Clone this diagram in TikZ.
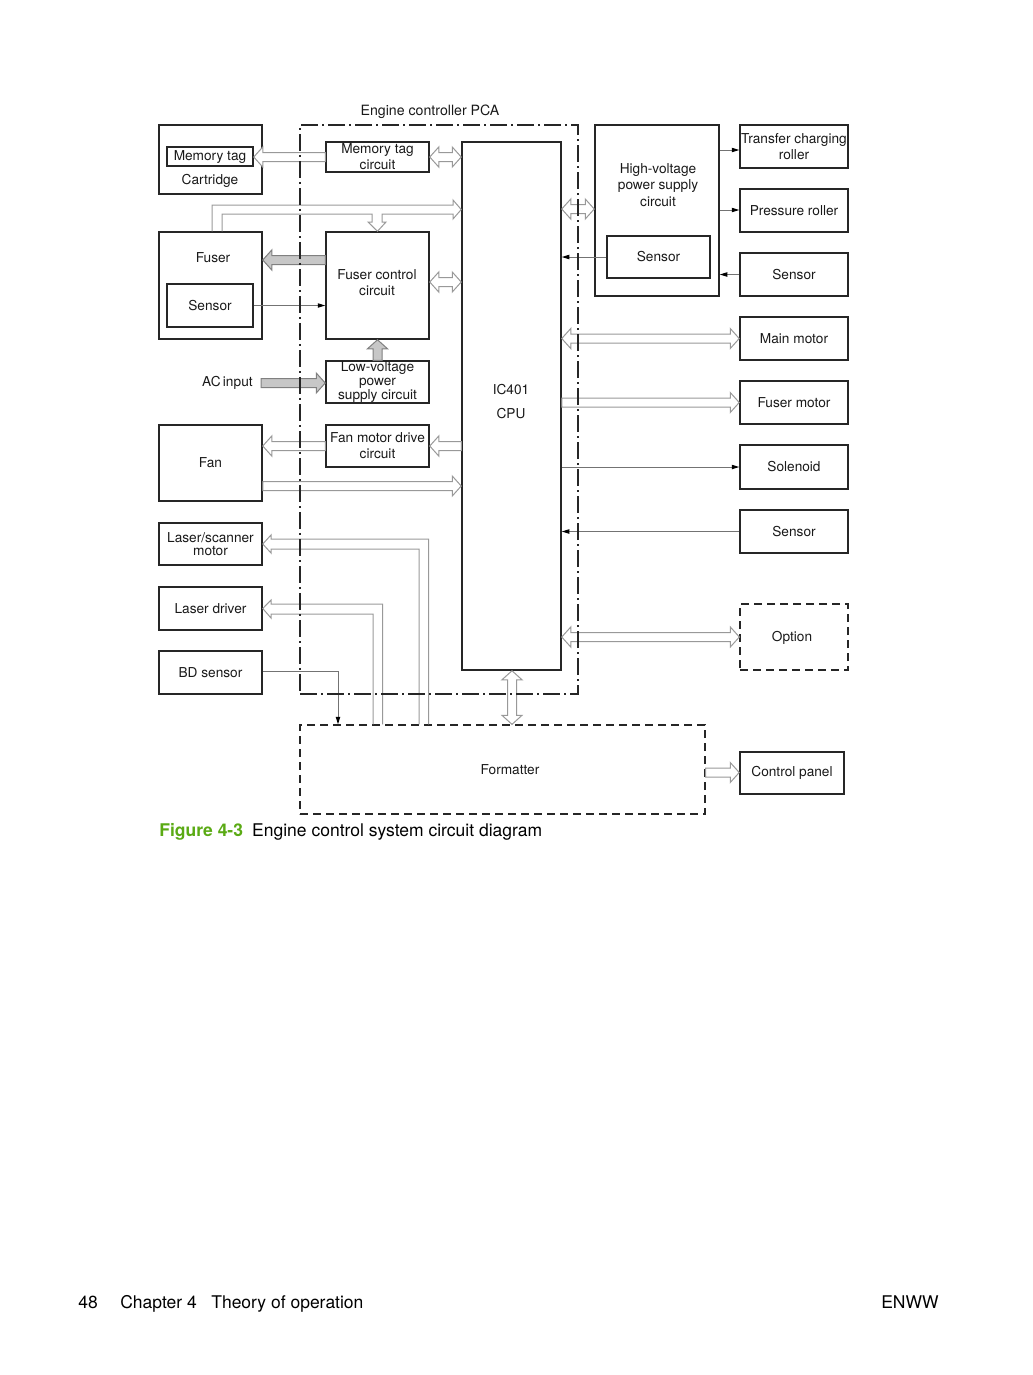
\documentclass[tikz,border=0pt]{standalone}
\usepackage{fontspec}
\setmainfont{TeX Gyre Heros}
\usepackage{tikz}
\usetikzlibrary{arrows.meta,calc}
\definecolor{figgreen}{RGB}{90,170,20}

\begin{document}
\begin{tikzpicture}[x=0.6pt, y=-0.6pt,
    every node/.style={font=\fontsize{8.2}{9.6}\selectfont, text=black!90, align=center},
    box/.style={draw=black!85, line width=0.9pt, inner sep=0pt},
    dashbox/.style={draw=black!85, line width=0.8pt, dash pattern=on 4.8pt off 3pt},
    boxsize/.style 2 args={minimum width=#1*0.6pt, minimum height=#2*0.6pt},
    sig/.style={draw=black!55, line width=0.6pt, -{Triangle[length=4.5pt, width=2.6pt, color=black]}},
    pipeline/.style={draw=black!40, line width=0.6pt},
    pipe/.style={draw=black!40, line width=0.6pt, fill=white, to path={
        let \p1=(\tikztostart), \p2=(\tikztotarget), \p3=($(\p2)!5.4pt!(\p1)$) in
        ($(\p1)!2.7pt!90:(\p2)$) -- ($(\p3)!2.7pt!90:(\p2)$) -- ($(\p3)!6pt!90:(\p2)$)
        -- (\p2) -- ($(\p3)!6pt!-90:(\p2)$) -- ($(\p3)!2.7pt!-90:(\p2)$)
        -- ($(\p1)!2.7pt!-90:(\p2)$) -- cycle}},
    pipe2/.style={draw=black!40, line width=0.6pt, fill=white, to path={
        let \p1=(\tikztostart), \p2=(\tikztotarget),
            \p3=($(\p2)!5.4pt!(\p1)$), \p4=($(\p1)!5.4pt!(\p2)$) in
        (\p1) -- ($(\p4)!6pt!-90:(\p1)$) -- ($(\p4)!2.7pt!-90:(\p1)$)
        -- ($(\p3)!2.7pt!90:(\p2)$) -- ($(\p3)!6pt!90:(\p2)$) -- (\p2)
        -- ($(\p3)!6pt!-90:(\p2)$) -- ($(\p3)!2.7pt!-90:(\p2)$)
        -- ($(\p4)!2.7pt!90:(\p1)$) -- ($(\p4)!6pt!90:(\p1)$) -- cycle}},
    gray pipe/.style={pipe, fill=black!22, draw=black!50},
    pagetxt/.style={anchor=base west, inner sep=0pt, font=\fontsize{10.5}{12}\selectfont, text=black}]

\useasboundingbox (0,0) rectangle (1033,1375);

\node[font=\fontsize{8.5}{10}\selectfont] (pcatitle) at (430,112) {Engine controller PCA};

% left column
\node[box, boxsize={103}{69}] (cart) at (210.5,159.5) {};
\node[box, boxsize={86}{19}] (mtag) at (210,156.5) {Memory tag};
\node (carttxt) at (210,181) {Cartridge};
\node[box, boxsize={103}{107}] (fuser) at (210.5,285.5) {};
\node (fusertxt) at (213,258) {Fuser};
\node[box, boxsize={86}{43}] (fsen) at (210,305.5) {Sensor};
\node[anchor=east, inner sep=0pt] (acin) at (253,383) {AC\,input};
\node[box, boxsize={103}{76}] (fan) at (210.5,463) {Fan};
\node[box, boxsize={103}{42}] (lsm) at (210.5,544) {Laser/scanner\\[-1.8pt]motor};
\node[box, boxsize={103}{43}] (ldrv) at (210.5,608.5) {Laser driver};
\node[box, boxsize={103}{43}] (bds) at (210.5,672.5) {BD sensor};

% engine controller
\node[box, boxsize={103}{30}] (mtc) at (377.5,157) {Memory tag\\circuit};
\node[box, boxsize={103}{107}] (fcc) at (377.5,285.5) {};
\node (fcctxt) at (377,283) {Fuser control\\circuit};
\node[box, boxsize={103}{42}, font=\fontsize{8.2}{8.2}\selectfont] (lvps) at (377.5,382) {Low-voltage\\power\\supply circuit};
\node[box, boxsize={103}{42}] (fmd) at (377.5,446) {Fan motor drive\\circuit};
\node[box, boxsize={99}{528}] (cpu) at (511.5,406) {};
\node (cputxt) at (511,402) {IC401\\[4.8pt]CPU};
\node[dashbox, boxsize={405}{89}] (fmt) at (502.5,769.5) {};
\node (fmttxt) at (510,770) {Formatter};

% right column
\node[box, boxsize={124}{171}] (hv) at (657,210.5) {};
\node[font=\fontsize{8.2}{9.9}\selectfont] (hvtxt) at (658,185) {High-voltage\\power supply\\circuit};
\node[box, boxsize={103}{42}] (hvsen) at (658.5,257) {Sensor};
\node[box, boxsize={108}{43}] (tcr) at (794,146.5) {Transfer charging\\roller};
\node[box, boxsize={108}{43}] (prol) at (794,210.5) {Pressure roller};
\node[box, boxsize={108}{43}] (rsen1) at (794,274.5) {Sensor};
\node[box, boxsize={108}{43}] (mmot) at (794,338.5) {Main motor};
\node[box, boxsize={108}{43}] (fmot) at (794,402.5) {Fuser motor};
\node[box, boxsize={108}{44}] (sol) at (794,467) {Solenoid};
\node[box, boxsize={108}{43}] (rsen2) at (794,531.5) {Sensor};
\node[dashbox, boxsize={108}{66}] (opt) at (794,637) {};
\node (opttxt) at (792,638) {Option};
\node[box, boxsize={104}{42}] (cpan) at (792,773) {Control panel};

% connections, left side
\draw[pipe] (mtc.west) to (mtag.east |- mtc.west);
\draw[pipe2] (mtc.east) to (cpu.west |- mtc.east);
\draw[pipeline] (fuser.north -| 212,0) |- (453,205) -- ++(0,-5) -- (cpu.west |- 0,209.5) -- (453,219) -- ++(0,-5)
    -- (382,214) -- ++(0,8) -- ++(4,0) -- (fcc.north) -- (368,222) -- ++(4,0) -- (372,214) -| (fuser.north -| 222,0);
\draw[gray pipe] (fcc.west |- 0,260) to (fuser.east |- 0,260);
\draw[sig] (fsen.east) -- (fcc.west |- fsen.east);
\draw[pipe2] (fcc.east |- 0,282) to (cpu.west |- 0,282);
\draw[gray pipe] (lvps.north) to (fcc.south);
\draw[gray pipe] ($(acin.east)+(8,0)$) to (lvps.west |- 0,383);
\draw[pipe] (fmd.west) to (fan.east |- fmd.west);
\draw[pipe] (cpu.west |- fmd.east) to (fmd.east);
\draw[pipe] (fan.east |- 0,486) to (cpu.west |- 0,486);
\draw[pipeline] (fmt.north -| 428.5,0) |- (271,539) -- ++(0,-4) -- (lsm.east) -- (271,553) -- ++(0,-4) -| (fmt.north -| 419,0);
\draw[pipeline] (fmt.north -| 382.5,0) |- (271,604) -- ++(0,-4) -- (ldrv.east) -- (271,618) -- ++(0,-4) -| (fmt.north -| 373,0);
\draw[sig] (bds.east |- 0,671) -| (fmt.north -| 338,0);
\draw[pipe2] (cpu.south -| 512,0) to (fmt.north -| 512,0);
\draw[pipe] (fmt.east |- 0,772.5) to (cpan.west |- 0,772.5);

% connections, right side
\draw[pipe2] (cpu.east |- 0,209) to (hv.west |- 0,209);
\draw[sig] (hvsen.west) -- (cpu.east |- hvsen.west);
\draw[sig] (hv.east |- 0,150) -- (tcr.west |- 0,150);
\draw[sig] (hv.east |- 0,210) -- (prol.west |- 0,210);
\draw[sig] (rsen1.west) -- (hv.east |- rsen1.west);
\draw[pipe2] (cpu.east |- mmot.west) to (mmot.west);
\draw[pipe] (cpu.east |- fmot.west) to (fmot.west);
\draw[sig] (cpu.east |- sol.west) -- (sol.west);
\draw[sig] (rsen2.west) -- (cpu.east |- rsen2.west);
\draw[pipe2] (cpu.east |- opt.west) to (opt.west);

\node[draw=black!85, line width=0.9pt, dash pattern=on 10.2pt off 2.4pt on 1.2pt off 2.4pt, boxsize={278}{569}] (pca) at (439,409.5) {};

\node[pagetxt] (caption) at (159,836) {\textcolor{figgreen}{\bfseries Figure 4-3}\hspace{5.5pt}Engine control system circuit diagram};
\node[pagetxt] (pageno) at (78,1308) {48};
\node[pagetxt] (chapter) at (120,1308) {Chapter 4};
\node[pagetxt] (chaptitle) at (211,1308) {Theory of operation};
\node[pagetxt, anchor=base east] (enww) at (939,1308) {ENWW};

\end{tikzpicture}
\end{document}
